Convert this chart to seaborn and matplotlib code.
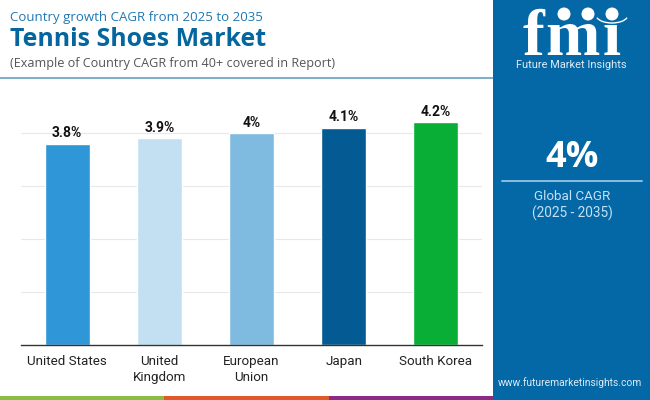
import matplotlib
matplotlib.use("Agg")
import matplotlib.pyplot as plt
from matplotlib.patches import Rectangle, Arc, Circle
import seaborn as sns
import pandas as pd

countries = ["United States", "United\nKingdom", "European\nUnion", "Japan", "South Korea"]
cagr = [3.8, 3.9, 4.0, 4.1, 4.2]
value_labels = ["3.8%", "3.9%", "4%", "4.1%", "4.2%"]
bar_colors = ["#2F96D8", "#C2E0F2", "#7FBAE0", "#045A92", "#08AE35"]
stripe_colors = ["#8BBD45", "#E0592A", "#8A2C86"]

sns.set_theme(style="white")
plt.rcParams['font.family'] = ['Roboto', 'DejaVu Sans']

W, H = 650, 400
PANEL = "#0568A6"
fig = plt.figure(figsize=(W/100, H/100), dpi=100, facecolor="white")

def px_axes(x0, y_top, x1, y_bot, **kw):
    return fig.add_axes([x0/W, 1-y_bot/H, (x1-x0)/W, (y_bot-y_top)/H], **kw)

ax = px_axes(21, 80, 482, 345)
df = pd.DataFrame({"country": countries, "cagr": cagr})
sns.barplot(data=df, x="country", y="cagr", hue="country", palette=bar_colors,
            legend=False, width=0.49, saturation=1, ax=ax)
ax.set_xlim(-0.5, 4.5)
ax.set_ylim(0, 5)
ax.set_yticks([1, 2, 3, 4])
ax.set_yticklabels([])
ax.grid(axis="y", color="#E8E8E8", lw=0.8)
ax.set_axisbelow(True)
ax.set_xlabel("")
ax.set_ylabel("")
for s in ["top", "left", "right"]:
    ax.spines[s].set_visible(False)
ax.spines["bottom"].set_color("#333333")
ax.spines["bottom"].set_linewidth(1)
ax.set_xticks(range(5))
ax.set_xticklabels(countries, fontsize=9.6, color="#222222", linespacing=1.3)
ax.tick_params(axis="both", length=0)
ax.tick_params(axis="x", pad=7)
for i, (v, lab) in enumerate(zip(cagr, value_labels)):
    ax.annotate(lab, (i, v), xytext=(0, 2.5), textcoords="offset points",
                ha="center", va="bottom", fontsize=10, fontweight="bold", color="#111111")

# overlay in pixel coordinates
ov = fig.add_axes([0, 0, 1, 1], facecolor="none")
ov.set_xlim(0, W)
ov.set_ylim(H, 0)
ov.axis("off")

ov.add_patch(Rectangle((0, 77), 493, 1.8, color="#7FAFC9", lw=0))
ov.add_patch(Rectangle((493, 0), 157, 400, color=PANEL, lw=0))
for i, c in enumerate(stripe_colors):
    ov.add_patch(Rectangle((164.4*i, 396), 164.4, 4, color=c, lw=0))

ov.text(10, 17, "Country growth CAGR from 2025 to 2035", fontsize=9.55, color="#1F78B4",
        family=["Open Sans"], va="center")
ov.text(10, 39, "Tennis Shoes Market", fontsize=17.9, fontweight="bold", color="#04659F",
        family=["Open Sans"], va="center")
ov.text(10, 63.5, "(Example of Country CAGR from 40+ covered in Report)", fontsize=9.05, color="#555555",
        family=["Open Sans"], va="center")

# side panel
ov.text(572.5, 158, "4%", fontsize=26, fontweight="bold", color="white", ha="center", va="center",
        family=["Open Sans"])
ov.plot([502, 642], [181, 181], color="#8CBDE0", lw=1.4)
ov.text(572, 197, "Global CAGR", fontsize=9.6, color="#C4E0F4", ha="center", va="center")
ov.text(572, 213, "(2025 - 2035)", fontsize=9.8, color="#C4E0F4", ha="center", va="center")
ov.text(570, 383, "www.futuremarketinsights.com", fontsize=7.4, color="#DDEBF5", ha="center", va="center")

# logo
for letter, cx in (("f", 533), ("m", 572), ("\u0131", 612)):
    ov.text(cx, 55, letter, fontsize=47, fontweight="bold", color="white", ha="center", va="baseline",
            family=["Liberation Serif"])
for k in range(12):
    ov.add_patch(Rectangle((510, 13.5 + 3.75*k), 125, 0.9, color=PANEL, lw=0))
for cx in (564, 588, 612):
    ov.add_patch(Circle((cx, 14), 6.5, color="white", lw=0))
ov.add_patch(Arc((612, 15), 32, 16, theta1=10, theta2=170, color="white", lw=1))
ov.text(571, 64.5, "Future Market Insights", fontsize=7.9, color="#DDEBF5", ha="center", va="center")

fig.savefig("out.png", dpi=100)
